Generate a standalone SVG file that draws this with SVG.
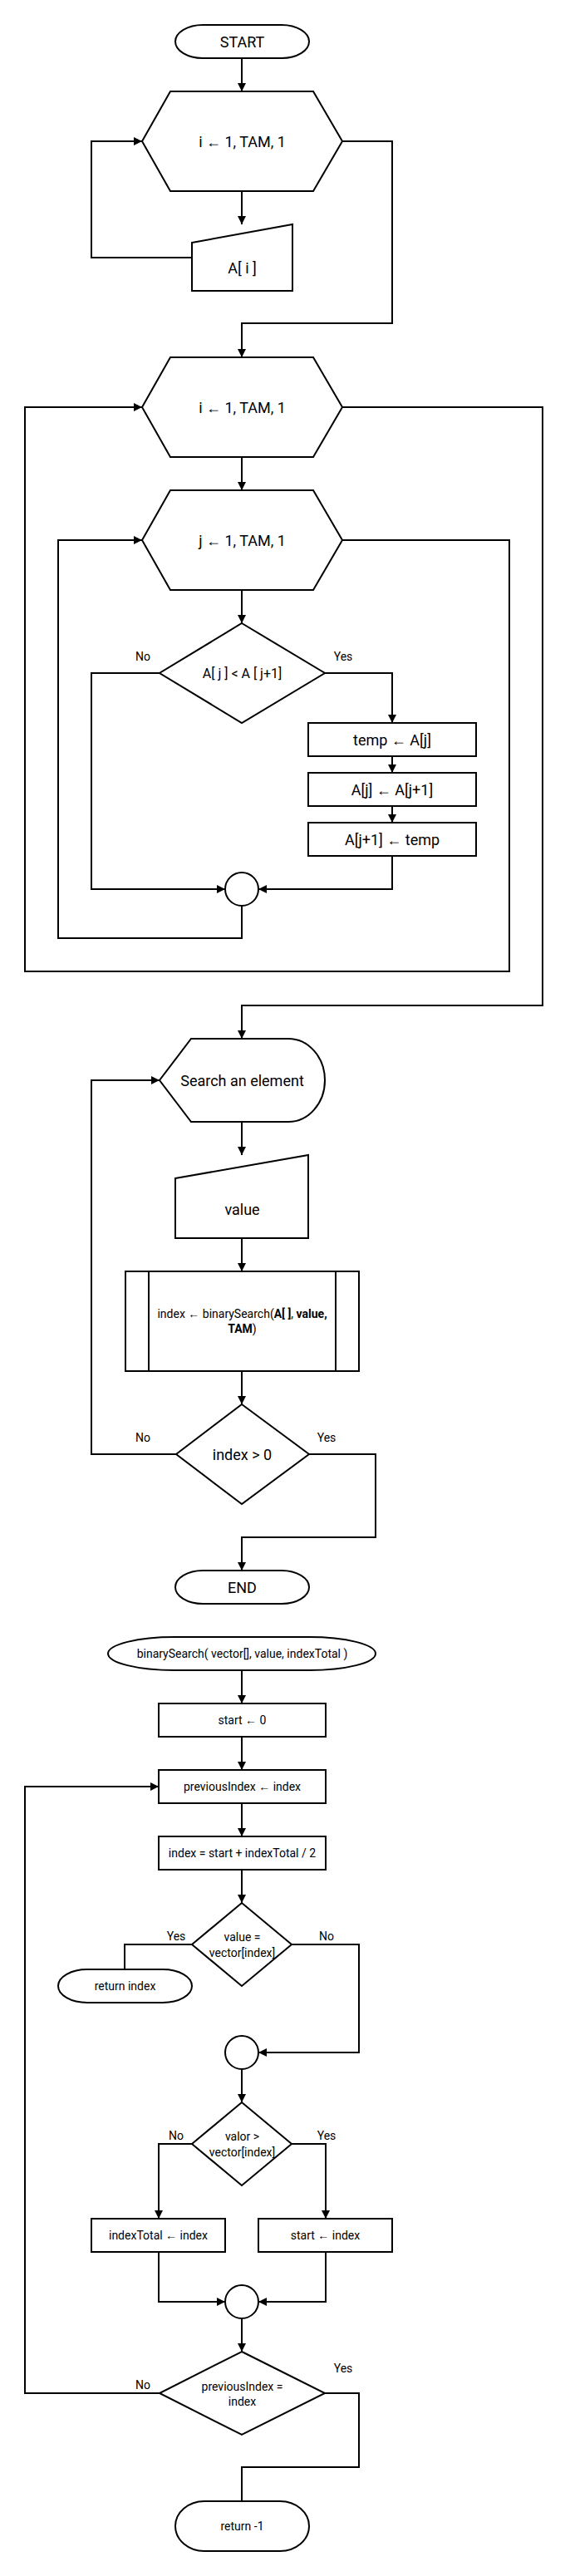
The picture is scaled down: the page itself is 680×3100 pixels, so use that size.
<svg xmlns="http://www.w3.org/2000/svg" width="680" height="3100" viewBox="0 0 680 3100">
<style>
.n{fill:#fff;stroke:#000;stroke-width:2}
.e{fill:none;stroke:#000;stroke-width:2}
.a{marker-end:url(#arr)}
text{font-family:Roboto,"Liberation Sans",sans-serif;text-anchor:middle;fill:#000}
.t18{font-size:18px}
.t16{font-size:16px}
.t14{font-size:14px}
.b{font-weight:bold}
</style>
<defs>
<marker id="arr" viewBox="0 0 10 10" refX="10" refY="5" markerWidth="10" markerHeight="11" markerUnits="userSpaceOnUse" orient="auto">
<path d="M0,0 L10,5 L0,10 Z" fill="#000"/>
</marker>
</defs>
<rect width="680" height="3100" fill="#fff"/>
<g id="connectors">
<path class="e a" d="M291,70 V110"/>
<path class="e a" d="M291,230 V270"/>
<path class="e a" d="M231,310 H110 V170 H171"/>
<path class="e a" d="M412,170 H472 V389 H291 V430"/>
<path class="e a" d="M291,550 V590"/>
<path class="e a" d="M291,710 V750"/>
<path class="e a" d="M192,810 H110 V1070 H271"/>
<path class="e a" d="M391,810 H472 V870"/>
<path class="e a" d="M472,910 V930"/>
<path class="e a" d="M472,970 V990"/>
<path class="e a" d="M472,1030 V1070 H311"/>
<path class="e a" d="M291,1090 V1129 H70 V650 H171"/>
<path class="e a" d="M412,650 H613 V1169 H30 V490 H171"/>
<path class="e a" d="M412,490 H653 V1210 H291 V1250"/>
<path class="e a" d="M291,1350 V1390"/>
<path class="e a" d="M291,1490 V1530"/>
<path class="e a" d="M291,1650 V1690"/>
<path class="e a" d="M212,1750 H110 V1300 H192"/>
<path class="e a" d="M372,1750 H452 V1850 H291 V1890"/>
<path class="e a" d="M291,2010 V2050"/>
<path class="e a" d="M291,2090 V2130"/>
<path class="e a" d="M291,2170 V2210"/>
<path class="e a" d="M291,2250 V2290"/>
<path class="e" d="M231,2340 H150 V2370"/>
<path class="e a" d="M351,2340 H432 V2470 H311"/>
<path class="e a" d="M291,2490 V2530"/>
<path class="e a" d="M231,2580 H191 V2670"/>
<path class="e a" d="M351,2580 H392 V2670"/>
<path class="e a" d="M191,2710 V2770 H271"/>
<path class="e a" d="M392,2710 V2770 H311"/>
<path class="e a" d="M291,2790 V2830"/>
<path class="e a" d="M192,2880 H30 V2150 H191"/>
<path class="e" d="M391,2880 H432 V2969 H291 V3010"/>
<text class="t14" x="172" y="795">No</text>
<text class="t14" x="413" y="795">Yes</text>
<text class="t14" x="172" y="1735">No</text>
<text class="t14" x="393" y="1735">Yes</text>
<text class="t14" x="212" y="2335">Yes</text>
<text class="t14" x="393" y="2335">No</text>
<text class="t14" x="212" y="2575">No</text>
<text class="t14" x="393" y="2575">Yes</text>
<text class="t14" x="413" y="2855">Yes</text>
<text class="t14" x="172" y="2875">No</text>
</g>
<g id="start">
<rect class="n" x="211" y="30" width="161" height="40" rx="33" ry="20"/>
<text class="t18" x="291.5" y="56.5">START</text>
</g>
<g id="loop1">
<polygon class="n" points="205,110 377,110 412,170 377,230 205,230 171,170"/>
<text class="t18" x="291.5" y="176.5">i ← 1, TAM, 1</text>
</g>
<g id="inputA">
<polygon class="n" points="231,292 352,270 352,350 231,350"/>
<text class="t18" x="291.5" y="329">A[ i ]</text>
</g>
<g id="loop2">
<polygon class="n" points="205,430 377,430 412,490 377,550 205,550 171,490"/>
<text class="t18" x="291.5" y="496.5">i ← 1, TAM, 1</text>
</g>
<g id="loop3">
<polygon class="n" points="205,590 377,590 412,650 377,710 205,710 171,650"/>
<text class="t18" x="291.5" y="656.5">j ← 1, TAM, 1</text>
</g>
<g id="cmp">
<polygon class="n" points="291,750 391,810 291,870 192,810"/>
<text class="t16" x="291.5" y="815.5">A[ j ] &lt; A [ j+1]</text>
</g>
<g id="swap1">
<rect class="n" x="371" y="870" width="202" height="40"/>
<text class="t18" x="472" y="896.5">temp ← A[j]</text>
</g>
<g id="swap2">
<rect class="n" x="371" y="930" width="202" height="40"/>
<text class="t18" x="472" y="956.5">A[j] ← A[j+1]</text>
</g>
<g id="swap3">
<rect class="n" x="371" y="990" width="202" height="40"/>
<text class="t18" x="472" y="1016.5">A[j+1] ← temp</text>
</g>
<g id="join1">
<circle class="n" cx="291" cy="1070" r="20"/>
</g>
<g id="display">
<path class="n" d="M230,1250 H347 A44,50 0 0 1 347,1350 H230 L192,1300 Z"/>
<text class="t18" x="291.5" y="1306.5">Search an element</text>
</g>
<g id="inputValue">
<polygon class="n" points="211,1418 371,1390 371,1490 211,1490"/>
<text class="t18" x="291.5" y="1461.5">value</text>
</g>
<g id="call">
<rect class="n" x="151" y="1530" width="281" height="120"/>
<line class="e" x1="179" y1="1530" x2="179" y2="1650"/>
<line class="e" x1="404" y1="1530" x2="404" y2="1650"/>
<text class="t14" x="291.5" y="1586">index ← binarySearch(<tspan class="b">A[ ]</tspan>, <tspan class="b">value,</tspan></text>
<text class="t14" x="291.5" y="1604"><tspan class="b">TAM</tspan>)</text>
</g>
<g id="check">
<polygon class="n" points="291,1690 372,1750 291,1810 212,1750"/>
<text class="t18" x="291.5" y="1756.5">index &gt; 0</text>
</g>
<g id="end">
<rect class="n" x="211" y="1890" width="161" height="40" rx="33" ry="20"/>
<text class="t18" x="291.5" y="1916.5">END</text>
</g>
<g id="bsStart">
<rect class="n" x="130" y="1970" width="322" height="40" rx="80" ry="20"/>
<text class="t14" x="291.5" y="1995">binarySearch( vector[], value, indexTotal )</text>
</g>
<g id="startZero">
<rect class="n" x="191" y="2050" width="201" height="40"/>
<text class="t14" x="291.5" y="2075">start ← 0</text>
</g>
<g id="prevIdx">
<rect class="n" x="191" y="2130" width="201" height="40"/>
<text class="t14" x="291.5" y="2155">previousIndex ← index</text>
</g>
<g id="mid">
<rect class="n" x="191" y="2210" width="201" height="40"/>
<text class="t14" x="291.5" y="2235">index = start + indexTotal / 2</text>
</g>
<g id="eq">
<polygon class="n" points="291,2290 351,2340 291,2390 231,2340"/>
<text class="t14" x="291.5" y="2336">value =</text>
<text class="t14" x="291.5" y="2354.5">vector[index]</text>
</g>
<g id="retIdx">
<rect class="n" x="70" y="2370" width="161" height="40" rx="35" ry="20"/>
<text class="t14" x="150.5" y="2395">return index</text>
</g>
<g id="join2">
<circle class="n" cx="291" cy="2470" r="20"/>
</g>
<g id="gt">
<polygon class="n" points="291,2530 351,2580 291,2630 231,2580"/>
<text class="t14" x="291.5" y="2576">valor &gt;</text>
<text class="t14" x="291.5" y="2594.5">vector[index]</text>
</g>
<g id="setTotal">
<rect class="n" x="110" y="2670" width="161" height="40"/>
<text class="t14" x="190.5" y="2695">indexTotal ← index</text>
</g>
<g id="setStart">
<rect class="n" x="311" y="2670" width="161" height="40"/>
<text class="t14" x="391.5" y="2695">start ← index</text>
</g>
<g id="join3">
<circle class="n" cx="291" cy="2770" r="20"/>
</g>
<g id="same">
<polygon class="n" points="291,2830 391,2880 291,2930 192,2880"/>
<text class="t14" x="291.5" y="2876.5">previousIndex =</text>
<text class="t14" x="291.5" y="2895">index</text>
</g>
<g id="retNeg">
<rect class="n" x="211" y="3010" width="161" height="60" rx="35" ry="30"/>
<text class="t14" x="291.5" y="3045">return -1</text>
</g>
</svg>
